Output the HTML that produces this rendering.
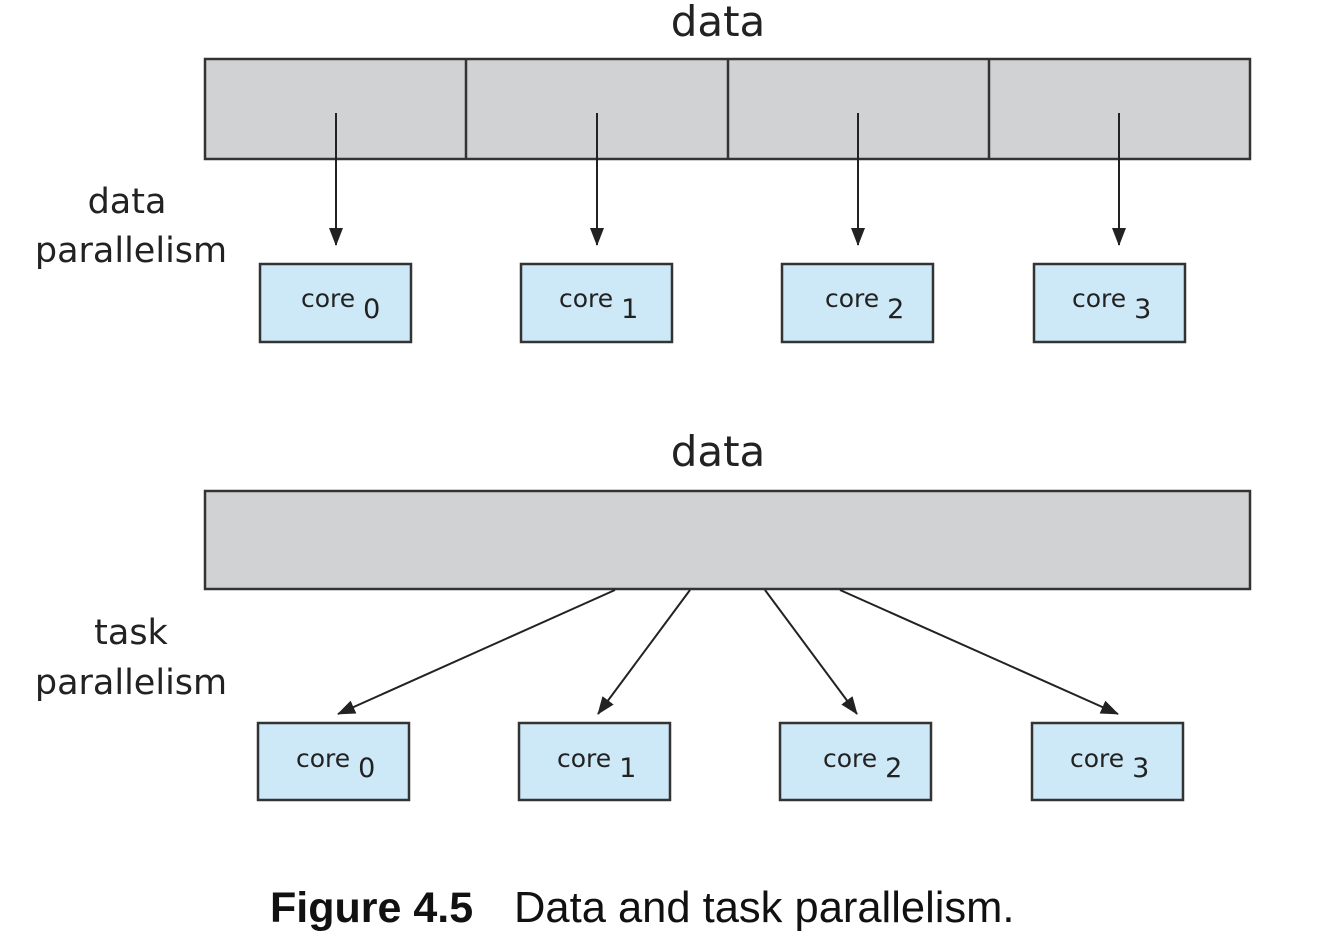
<!DOCTYPE html>
<html><head><style>html,body{margin:0;padding:0;background:#fff;}svg{display:block}</style></head><body>
<svg width="1324" height="934" xmlns="http://www.w3.org/2000/svg" font-family="'DejaVu Sans','Liberation Sans',sans-serif">
<defs><marker id="b" markerWidth="18" markerHeight="14" refX="17" refY="7" orient="auto" markerUnits="userSpaceOnUse"><path d="M0,0 L18,7 L0,14 z" fill="#222"/></marker></defs>
<text x="718" y="36" font-size="42" text-anchor="middle" fill="#222">data</text>
<rect x="205" y="59" width="1045" height="100" fill="#d1d2d4" stroke="#333" stroke-width="2.5"/>
<g stroke="#333" stroke-width="2.5"><line x1="466" y1="59" x2="466" y2="159"/><line x1="728" y1="59" x2="728" y2="159"/><line x1="989" y1="59" x2="989" y2="159"/></g>
<g stroke="#222" stroke-width="2" marker-end="url(#b)">
<line x1="336" y1="113" x2="336" y2="245"/><line x1="597" y1="113" x2="597" y2="245"/><line x1="858" y1="113" x2="858" y2="245"/><line x1="1119" y1="113" x2="1119" y2="245"/>
</g>
<text x="127" y="213" font-size="35" text-anchor="middle" fill="#222">data</text>
<text x="131" y="262" font-size="35" text-anchor="middle" fill="#222">parallelism</text>
<g fill="#cde8f6" stroke="#333" stroke-width="2.5">
<rect x="260" y="264" width="151" height="78"/><rect x="521" y="264" width="151" height="78"/><rect x="782" y="264" width="151" height="78"/><rect x="1034" y="264" width="151" height="78"/>
<rect x="258" y="723" width="151" height="77"/><rect x="519" y="723" width="151" height="77"/><rect x="780" y="723" width="151" height="77"/><rect x="1032" y="723" width="151" height="77"/>
</g>
<g font-size="25" fill="#222">
<text x="301" y="307">core <tspan font-size="27" dy="11">0</tspan></text>
<text x="559" y="307">core <tspan font-size="27" dy="11">1</tspan></text>
<text x="825" y="307">core <tspan font-size="27" dy="11">2</tspan></text>
<text x="1072" y="307">core <tspan font-size="27" dy="11">3</tspan></text>
<text x="296" y="767">core <tspan font-size="27" dy="10">0</tspan></text>
<text x="557" y="767">core <tspan font-size="27" dy="10">1</tspan></text>
<text x="823" y="767">core <tspan font-size="27" dy="10">2</tspan></text>
<text x="1070" y="767">core <tspan font-size="27" dy="10">3</tspan></text>
</g>
<text x="718" y="466" font-size="42" text-anchor="middle" fill="#222">data</text>
<rect x="205" y="491" width="1045" height="98" fill="#d1d2d4" stroke="#333" stroke-width="2.5"/>
<g stroke="#222" stroke-width="2" marker-end="url(#b)">
<line x1="615" y1="590" x2="338" y2="714"/><line x1="690" y1="590" x2="598" y2="714"/><line x1="765" y1="590" x2="857" y2="714"/><line x1="840" y1="590" x2="1118" y2="714"/>
</g>
<text x="131" y="644" font-size="35" text-anchor="middle" fill="#222">task</text>
<text x="131" y="694" font-size="35" text-anchor="middle" fill="#222">parallelism</text>
<text x="270" y="922" font-size="43" font-weight="bold" font-family="'Liberation Sans',sans-serif" fill="#111">Figure 4.5</text>
<text x="514" y="922" font-size="43.5" font-family="'Liberation Sans',sans-serif" fill="#111">Data and task parallelism.</text>
</svg>
</body></html>
